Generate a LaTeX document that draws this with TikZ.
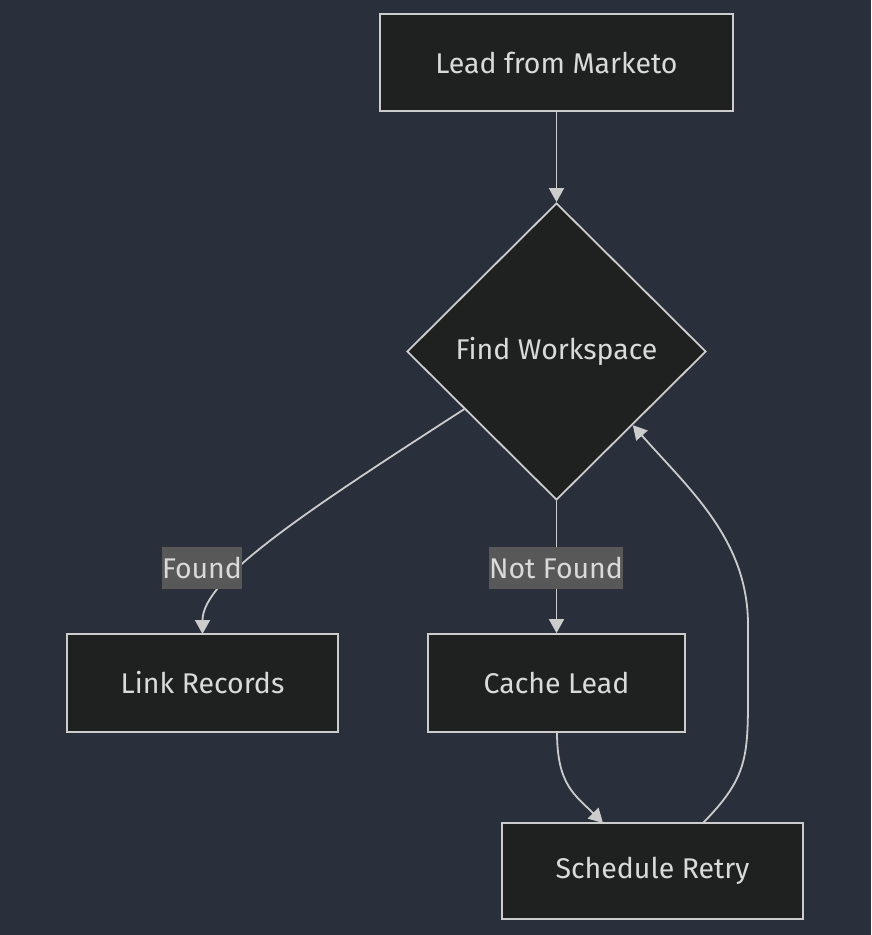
\documentclass[tikz,border=0pt]{standalone}
\usepackage{fontspec}
\setmainfont{Fira Sans}
\usetikzlibrary{shapes.geometric,arrows.meta}
\definecolor{bgc}{RGB}{42,47,60}
\definecolor{nodefill}{RGB}{31,32,32}
\definecolor{strokec}{RGB}{204,204,204}
\definecolor{textc}{RGB}{218,218,218}
\definecolor{lblfill}{RGB}{88,88,88}
\tikzset{
  box/.style={draw=strokec, fill=nodefill, line width=1.8pt, inner sep=0pt, text=textc, font=\fontsize{28.5}{32}\selectfont},
  decision/.style={box, diamond, minimum width=299pt, minimum height=297pt},
  elabel/.style={fill=lblfill, text=textc, inner xsep=0pt, inner ysep=0pt, minimum height=42pt, font=\fontsize{28.5}{32}\selectfont},
  conn/.style={draw=strokec, line width=1.8pt, -{Triangle[length=14pt,width=15pt]}},
}
\begin{document}
\begin{tikzpicture}[x=1pt,y=-1pt]
\useasboundingbox[fill=bgc] (0,0) rectangle (871,935);
\node[box, minimum width=353pt, minimum height=97pt] (lead) at (556.5,62.5) {Lead from Marketo};
\node[decision] (find) at (556.5,351.5) {Find Workspace};
\node[box, minimum width=271pt, minimum height=98pt] (link) at (202.5,683) {Link Records};
\node[box, minimum width=257pt, minimum height=98pt] (cache) at (556.5,683) {Cache Lead};
\node[box, minimum width=301pt, minimum height=96pt] (retry) at (652.5,871) {Schedule Retry};
\coordinate (linkin) at (202.5,634);
\coordinate (retryin) at (603,823);
\coordinate (retryout) at (703,823);
\coordinate (cacheout) at (557,732);
\draw[conn] (lead.south) -- (find.north);
\draw[conn] (find.212) .. controls (300,515) and (202.5,580) .. (linkin);
\draw[conn] (find.south) -- (cache.north);
\draw[conn] (cacheout) .. controls (557,785) and (575,795) .. (retryin);
\draw[conn] (retryout) .. controls (745,780) and (748,760) .. (748,700) -- (748,625) .. controls (748,540) and (690,490) .. (find.-44);
\node[elabel] (lfound) at (202,568) {Found};
\node[elabel] (lnot) at (556,568) {Not Found};
\end{tikzpicture}
\end{document}
